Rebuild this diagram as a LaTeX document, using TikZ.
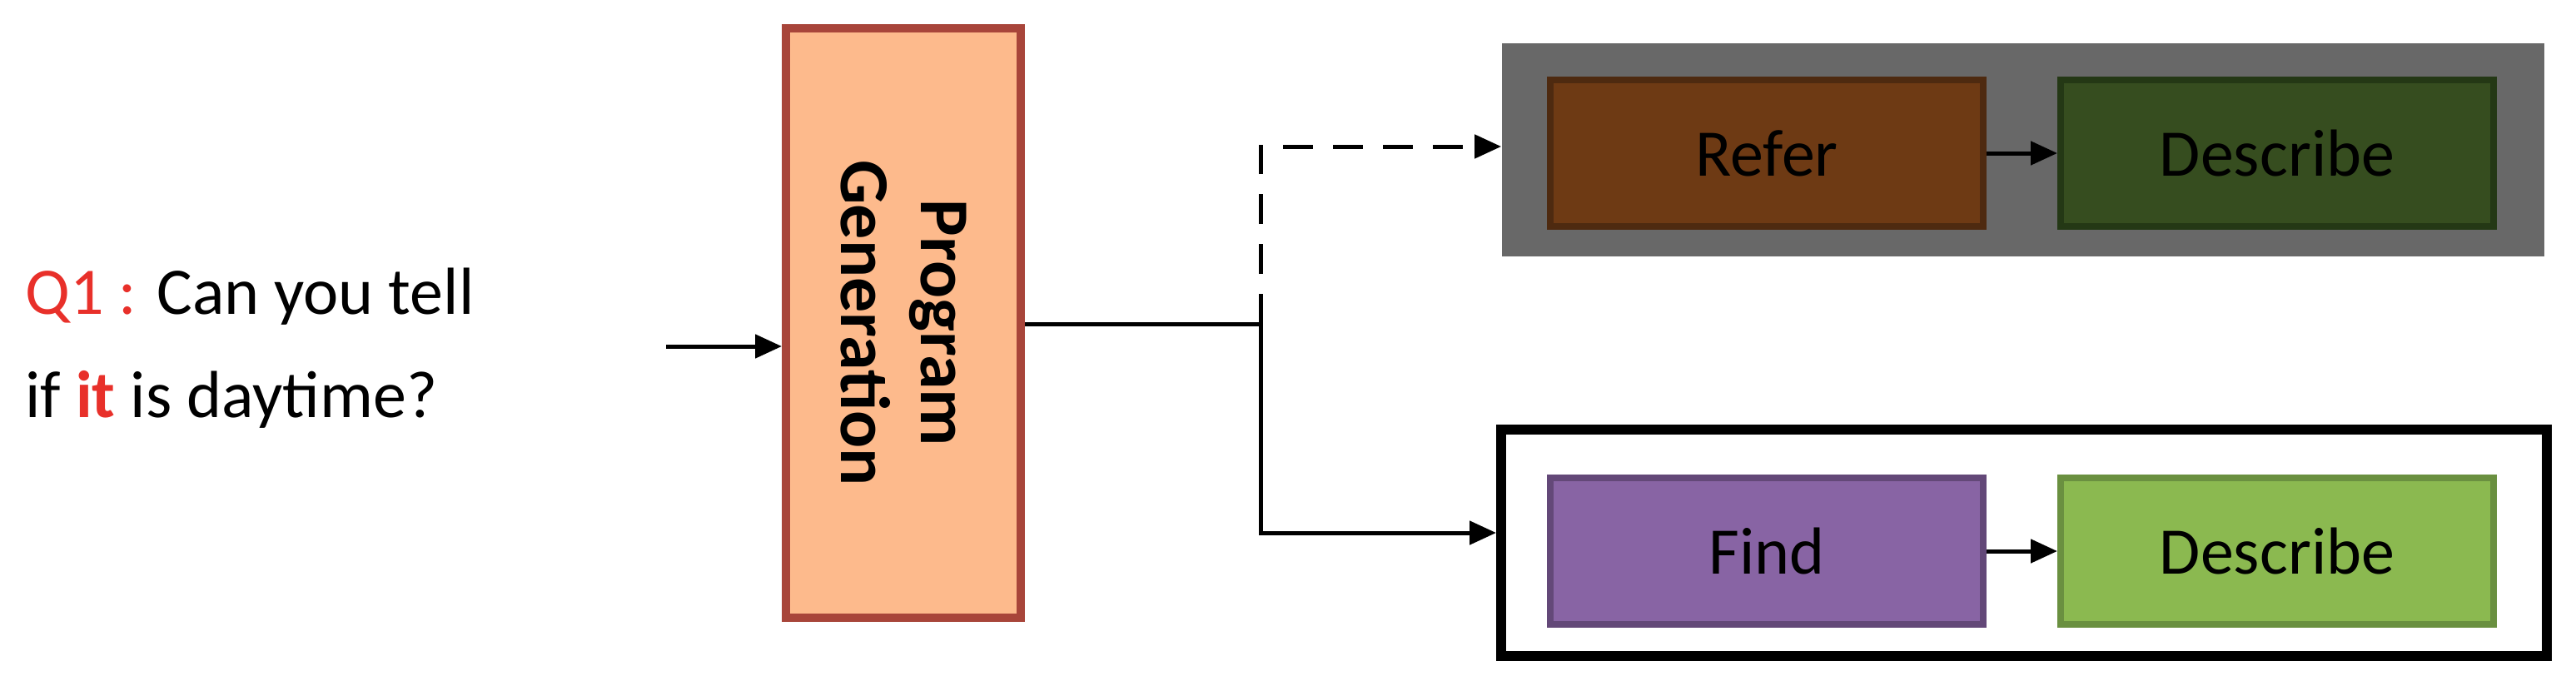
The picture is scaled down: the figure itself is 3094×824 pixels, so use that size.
\documentclass[tikz,border=0pt]{standalone}
\usepackage{fontspec}
\setmainfont{Carlito}
\usetikzlibrary{arrows.meta}
\definecolor{qred}{HTML}{E8302A}
\definecolor{pgfill}{HTML}{FDBA8C}
\definecolor{pgdraw}{HTML}{A8453A}
\definecolor{grayb}{HTML}{686868}
\definecolor{referf}{HTML}{6E3A14}
\definecolor{referd}{HTML}{4E2A10}
\definecolor{descaf}{HTML}{364D1F}
\definecolor{descad}{HTML}{243815}
\definecolor{findf}{HTML}{8864A4}
\definecolor{findd}{HTML}{634878}
\definecolor{descbf}{HTML}{8BB950}
\definecolor{descbd}{HTML}{6A9040}
\tikzset{
  px/.style={x=0.5pt,y=-0.5pt},
  module/.style={draw, line width=4pt, minimum width=260pt, minimum height=88pt, font=\fontsize{40}{44}\selectfont, inner sep=0pt},
  conn/.style={line width=2.5pt, -{Triangle[length=16pt,width=14pt]}},
}
\begin{document}
\begin{tikzpicture}[px]
\useasboundingbox (0,0) rectangle (3094,824);
% input text
\node[anchor=west, font=\fontsize{40}{62}\selectfont, align=left, inner sep=0pt] (q) at (30,418)
  {\textcolor{qred}{Q1 :} Can you tell\\ if \textcolor{qred}{\textbf{it}} is daytime?};
% program generation
\node[draw=pgdraw, fill=pgfill, line width=5pt, minimum width=141pt, minimum height=354pt, inner sep=0pt] (pg) at (1085,388) {};
\node[rotate=-90, font=\bfseries\fontsize{42}{48}\selectfont, align=center] (pgt) at (pg.center) {Program\\Generation};
\coordinate (qin) at (800,416);
\draw[conn] (qin) -- (qin -| pg.west);
% containers
\node[fill=grayb, minimum width=626pt, minimum height=128pt, inner sep=0pt] (top) at (2429.5,180) {};
\node[draw, line width=6pt, fill=white, minimum width=628pt, minimum height=136pt, inner sep=0pt] (bot) at (2431,652) {};
% modules
\node[module, draw=referd, fill=referf] (refer) at (2122,184) {Refer};
\node[module, draw=descad, fill=descaf] (desca) at (2735,184) {Describe};
\node[module, draw=findd, fill=findf] (find) at (2122,662) {Find};
\node[module, draw=descbd, fill=descbf] (descb) at (2735,662) {Describe};
\draw[conn] (refer) -- (desca);
\draw[conn] (find) -- (descb);
% branches
\coordinate (split) at (1514,389);
\coordinate (pgout) at (pg.east |- split);
\draw[line width=2.5pt] (pgout) -- (split);
\draw[conn, dashed, dash pattern=on 18pt off 12pt] (split) |- (top.west |- 0,176);
\draw[conn] (split) |- (bot.west |- 0,640);
\end{tikzpicture}
\end{document}
